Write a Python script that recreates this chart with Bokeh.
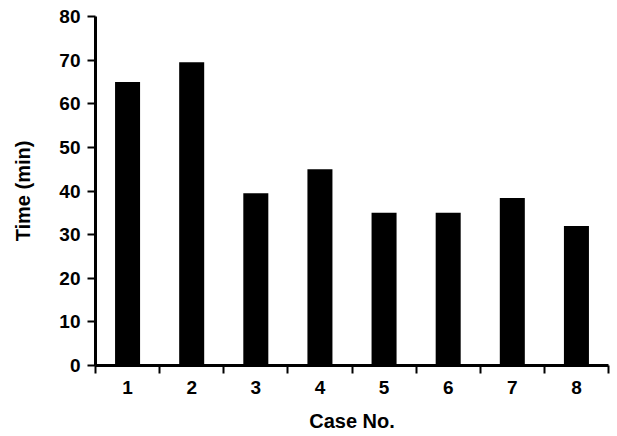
from bokeh.plotting import figure
from bokeh.models import FixedTicker, Range1d
from bokeh.embed import file_html
from bokeh.resources import INLINE

cases = [1, 2, 3, 4, 5, 6, 7, 8]
times = [65, 69.5, 39.5, 45, 35, 35, 38.4, 32]
y_ticks = [0, 10, 20, 30, 40, 50, 60, 70, 80]
x_labels = {1: "1", 2: "2", 3: "3", 4: "4", 5: "5", 6: "6", 7: "7", 8: "8"}

p = figure(width=611, height=434, output_backend="svg", toolbar_location=None,
           x_range=Range1d(0.5, 8.5), y_range=Range1d(0, 80),
           min_border_left=95, min_border_right=3, min_border_top=16, min_border_bottom=66)
p.outline_line_color = None
p.xgrid.grid_line_color = None
p.ygrid.grid_line_color = None

p.vbar(x=cases, top=times, width=0.39, fill_color="black", line_color=None)

font = "Liberation Sans"
# x axis
xa = p.xaxis[0]
xa.ticker = FixedTicker(ticks=cases, minor_ticks=[c - 0.5 for c in cases] + [8.5])
xa.major_label_overrides = x_labels
xa.major_tick_line_color = None
xa.major_tick_out = 8
xa.major_tick_in = 0
xa.minor_tick_out = 8
xa.minor_tick_in = 0
xa.minor_tick_line_width = 2
xa.minor_tick_line_color = "black"
xa.axis_line_width = 3
xa.axis_line_color = "black"
xa.major_label_standoff = 7
xa.major_label_text_font = font
xa.major_label_text_font_style = "bold"
xa.major_label_text_font_size = "19px"
xa.major_label_text_color = "black"
xa.axis_label = "Case No."
xa.axis_label_text_font = font
xa.axis_label_text_font_style = "bold"
xa.axis_label_text_font_size = "20px"
xa.axis_label_text_color = "black"
xa.axis_label_standoff = 13

# y axis
ya = p.yaxis[0]
ya.ticker = FixedTicker(ticks=y_ticks)
ya.minor_tick_line_color = None
ya.major_tick_out = 8
ya.major_tick_in = 0
ya.major_tick_line_width = 2
ya.axis_line_width = 3
ya.axis_line_color = "black"
ya.major_label_standoff = 7
ya.major_label_text_font = font
ya.major_label_text_font_style = "bold"
ya.major_label_text_font_size = "19px"
ya.major_label_text_color = "black"
ya.axis_label = "Time (min)"
ya.axis_label_text_font = font
ya.axis_label_text_font_style = "bold"
ya.axis_label_text_font_size = "20px"
ya.axis_label_text_color = "black"
ya.axis_label_standoff = 22

open("out.html", "w").write(file_html(p, INLINE))
